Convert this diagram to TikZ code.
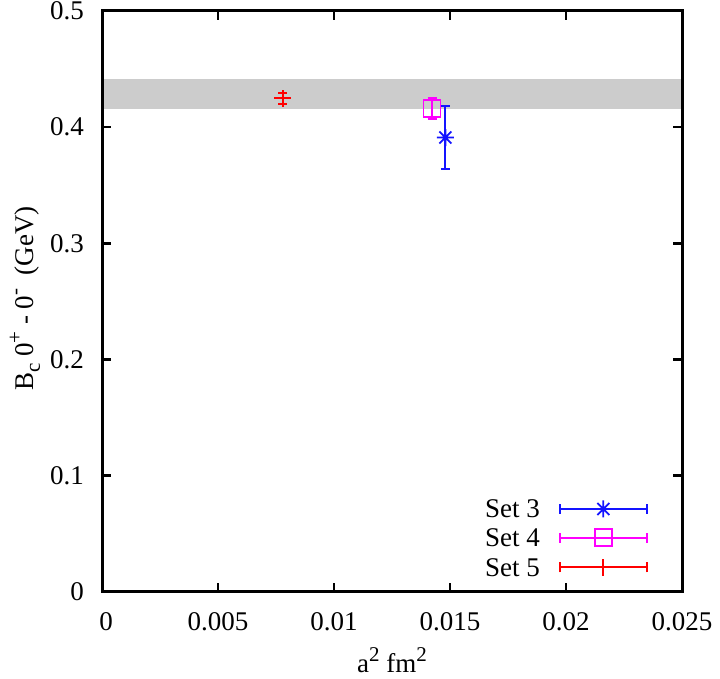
\documentclass[tikz,border=0pt]{standalone}
\usepackage{fontspec}
\setmainfont{Liberation Serif}
\definecolor{bandgray}{RGB}{204,204,204}
\definecolor{pblue}{RGB}{20,20,255}
\definecolor{pmag}{RGB}{255,0,255}
\definecolor{pred}{RGB}{255,0,0}
\newcommand\supx[1]{\raisebox{0.42em}{\fontsize{21}{21}\selectfont #1}}
\newcommand\subx[1]{\raisebox{-0.25em}{\fontsize{21}{21}\selectfont #1}}
\begin{document}
\begin{tikzpicture}[x=1pt,y=1pt,
  lbl/.style={font=\fontsize{27}{27}\selectfont, inner sep=0pt},
  ebar/.style={line width=1.8pt},
  framestyle/.style={line width=3pt},
  tickstyle/.style={line width=2.6pt},
  starmark/.pic={\draw[line width=1.8pt] (-8.5pt,0)--(8.5pt,0) (0,-8.5pt)--(0,8.5pt) (-6pt,-6pt)--(6pt,6pt) (-6pt,6pt)--(6pt,-6pt);},
  boxmark/.pic={\draw[line width=1.6pt] (-8.5pt,-8.5pt) rectangle (8.5pt,8.5pt);},
  plusmark/.pic={\draw[line width=1.8pt] (-8.5pt,0)--(8.5pt,0) (0,-8.5pt)--(0,8.5pt);}]
\useasboundingbox (0,0) rectangle (720,679);
% data area
\begin{scope}[shift={(102,87)}, x=23.2pt, y=1.162pt]
  \fill[bandgray] (0,415.7) rectangle (25,441.5);
  % Set 3
  \begin{scope}[pblue]
    \draw[ebar] (14.8,363.8) coordinate (b3) -- (14.8,418.5) coordinate (t3);
    \draw[ebar] (b3) ++(-4.5pt,0) -- ++(9pt,0);
    \draw[ebar] (t3) ++(-4.5pt,0) -- ++(9pt,0);
    \pic[pblue] at (14.8,391.1) {starmark};
  \end{scope}
  % Set 4
  \begin{scope}[pmag]
    \draw[ebar] (14.23,406.8) coordinate (b4) -- (14.23,425.4) coordinate (t4);
    \draw[ebar] (b4) ++(-4.5pt,0) -- ++(9pt,0);
    \draw[ebar] (t4) ++(-4.5pt,0) -- ++(9pt,0);
    \pic[pmag] at (14.23,416.1) {boxmark};
  \end{scope}
  % Set 5
  \begin{scope}[pred]
    \draw[ebar] (7.79,420.2) coordinate (b5) -- (7.79,429.7) coordinate (t5);
    \draw[ebar] (b5) ++(-4.5pt,0) -- ++(9pt,0);
    \draw[ebar] (t5) ++(-4.5pt,0) -- ++(9pt,0);
    \pic[pred] at (7.79,424.9) {plusmark};
  \end{scope}
\end{scope}
% frame
\draw[framestyle] (102,87) rectangle (682,668);
% ticks
\foreach \yy in {203.2,319.4,435.6,551.8} {
  \draw[tickstyle] (102,\yy) -- (111,\yy);
  \draw[tickstyle] (682,\yy) -- (673,\yy);
}
\foreach \xx in {218,334,450,566} {
  \draw[tickstyle] (\xx,87) -- (\xx,96);
  \draw[tickstyle] (\xx,668) -- (\xx,659);
}
% y tick labels
\node[lbl, anchor=east] (y0) at (84,87) {0};
\node[lbl, anchor=east] (y1) at (84,203.2) {0.1};
\node[lbl, anchor=east] (y2) at (84,319.4) {0.2};
\node[lbl, anchor=east] (y3) at (84,435.6) {0.3};
\node[lbl, anchor=east] (y4) at (84,551.8) {0.4};
\node[lbl, anchor=east] (y5) at (84,668) {0.5};
% x tick labels
\node[lbl] (x0) at (106,57) {0};
\node[lbl] (x1) at (218,57) {0.005};
\node[lbl] (x2) at (334,57) {0.01};
\node[lbl] (x3) at (450,57) {0.015};
\node[lbl] (x4) at (566,57) {0.02};
\node[lbl] (x5) at (682,57) {0.025};
% axis labels
\node[lbl, anchor=base] (xl) at (392,6) {a\supx{2} fm\supx{2}};
\node[lbl, rotate=90, anchor=base] (yl) at (33,380.5) {B\subx{c} 0\supx{+} - 0\supx{-}\ \ (GeV)};
% legend
\node[lbl, anchor=east] (l3) at (540,170) {Set 3};
\node[lbl, anchor=east] (l4) at (540,141.3) {Set 4};
\node[lbl, anchor=east] (l5) at (540,111.7) {Set 5};
\begin{scope}[pblue]
  \draw[ebar] (560,170) coordinate (l3a) -- (647,170) coordinate (l3b);
  \draw[ebar] (l3a) ++(0,-5) -- ++(0,10);
  \draw[ebar] (l3b) ++(0,-5) -- ++(0,10);
  \pic[pblue] at (603.3,170) {starmark};
\end{scope}
\begin{scope}[pmag]
  \draw[ebar] (560,141.3) coordinate (l4a) -- (647,141.3) coordinate (l4b);
  \draw[ebar] (l4a) ++(0,-5) -- ++(0,10);
  \draw[ebar] (l4b) ++(0,-5) -- ++(0,10);
  \pic[pmag] at (603.3,141.3) {boxmark};
\end{scope}
\begin{scope}[pred]
  \draw[ebar] (560,111.7) coordinate (l5a) -- (647,111.7) coordinate (l5b);
  \draw[ebar] (l5a) ++(0,-5) -- ++(0,10);
  \draw[ebar] (l5b) ++(0,-5) -- ++(0,10);
  \pic[pred] at (603.3,111.7) {plusmark};
\end{scope}
\end{tikzpicture}
\end{document}
